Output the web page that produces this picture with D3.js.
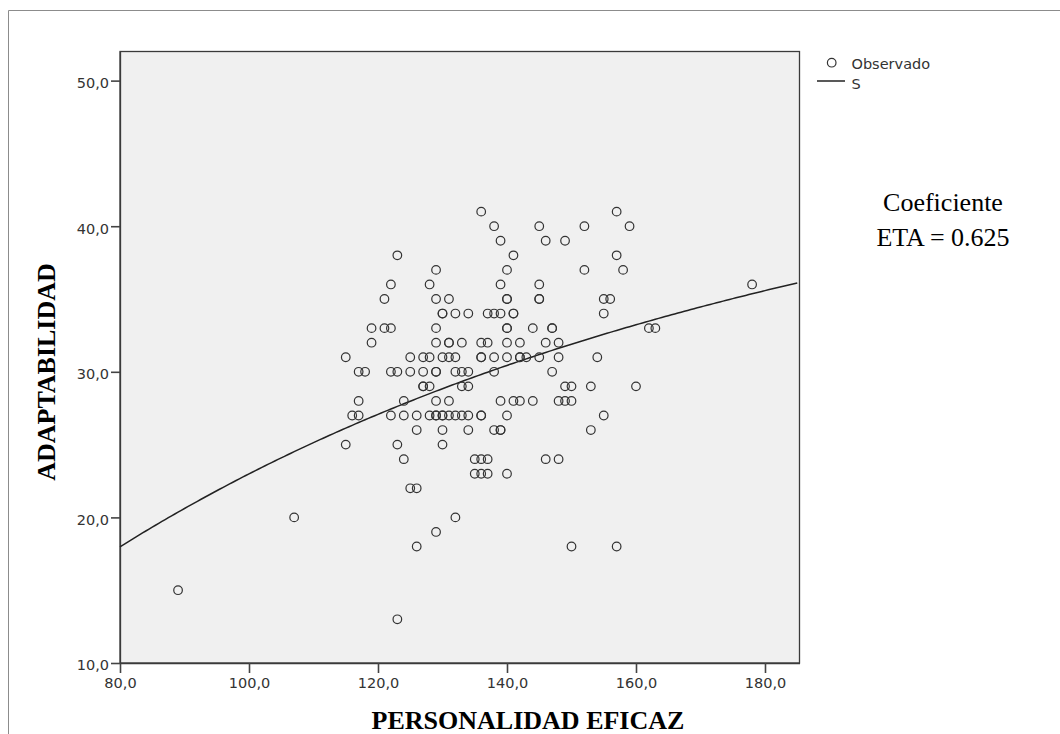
<!DOCTYPE html>
<html><head><meta charset="utf-8">
<script src="https://cdn.jsdelivr.net/npm/d3@7"></script>
<style>body{margin:0;background:#fff}svg{display:block}</style>
</head><body><svg id="c" width="1060" height="734"></svg>
<script>
// Observed points (PERSONALIDAD EFICAZ, ADAPTABILIDAD)
const personalidad = [
 123,122,121,119,121,122,119,115,125,127,117,118,122,123,125,127,127,127,117,124,
 116,117,122,124,126,126,115,123,124,125,126,107,126,123,128,
 136,138,145,139,146,149,141,129,140,139,145,
 129,131,140,140,145,145,
 130,130,132,134,137,138,139,141,141,
 129,140,140,144,147,147,
 129,131,131,133,136,137,140,142,146,148,
 128,130,131,132,136,136,138,140,142,142,143,145,148,
 129,129,132,133,134,138,147,
 128,133,134,149,150,
 129,131,139,141,142,144,148,149,150,
 128,129,129,130,130,131,132,133,134,136,136,140,
 130,134,138,139,139,
 130,
 135,136,137,146,148,
 135,136,137,140,
 132,129,150,
 157,152,159,157,152,158,155,156,155,162,163,154,153,160,155,153,157,
 89,178
];
const adaptabilidad = [
 38,36,35,33,33,33,32,31,31,31,30,30,30,30,30,30,29,29,28,28,
 27,27,27,27,27,26,25,25,24,22,22,20,18,13,36,
 41,40,40,39,39,39,38,37,37,36,36,
 35,35,35,35,35,35,
 34,34,34,34,34,34,34,34,34,
 33,33,33,33,33,33,
 32,32,32,32,32,32,32,32,32,32,
 31,31,31,31,31,31,31,31,31,31,31,31,31,
 30,30,30,30,30,30,30,
 29,29,29,29,29,
 28,28,28,28,28,28,28,28,28,
 27,27,27,27,27,27,27,27,27,27,27,27,
 26,26,26,26,26,
 25,
 24,24,24,24,24,
 23,23,23,23,
 20,19,18,
 41,40,40,38,37,37,35,35,34,33,33,31,29,29,27,26,18,
 15,36
];
const xTicks = [80,100,120,140,160,180];
const yTicks = [10,20,30,40,50];
const xDomain = [80, 185.35];
const yDomain = [10, 52];
// S model: y = exp(b0 + b1 / x)
const sCoef = [4.1175, -98.25];
const legendLabels = ["Observado", "S"];
const xTitle = "PERSONALIDAD EFICAZ";
const yTitle = "ADAPTABILIDAD";
const noteLines = ["Coeficiente", "ETA = 0.625"];

const svg = d3.select("#c");
const L = 120, R = 799.5, T = 51.5, B = 663;
const x = d3.scaleLinear().domain(xDomain).range([L, R]);
const y = d3.scaleLinear().domain(yDomain).range([B, T]);
const fmt = d => d.toFixed(1).replace(".", ",");

// outer frame
svg.append("path").attr("d", "M8.5,734 V10.5 H1060")
  .attr("fill", "none").attr("stroke", "#8c8c8c").attr("stroke-width", 1);

// plot area
svg.append("rect").attr("x", L).attr("y", T).attr("width", R - L).attr("height", B - T)
  .attr("fill", "#f0f0f0").attr("stroke", "#3a3a3a").attr("stroke-width", 1.3);

const tickFont = "'DejaVu Sans', sans-serif";
const gx = svg.append("g").attr("transform", `translate(0,${B})`)
  .call(d3.axisBottom(x).tickValues(xTicks).tickFormat(fmt).tickSize(10).tickPadding(5).tickSizeOuter(0));
const gy = svg.append("g").attr("transform", `translate(${L},0)`)
  .call(d3.axisLeft(y).tickValues(yTicks).tickFormat(fmt).tickSize(9).tickPadding(2).tickSizeOuter(0));
[gx, gy].forEach(g => {
  g.select(".domain").attr("stroke", "#3a3a3a").attr("stroke-width", 1.3);
  g.selectAll(".tick line").attr("stroke", "#444").attr("stroke-width", 1.6);
  g.selectAll(".tick text").attr("fill", "#333").style("font-family", tickFont).style("font-size", "14.5px");
});
gy.selectAll(".tick text").attr("dy", "0.47em");

// S curve
const xs = d3.range(xDomain[0], xDomain[1] + 0.001, 0.5);
const line = d3.line().x(d => x(d)).y(d => y(Math.exp(sCoef[0] + sCoef[1] / d)));
svg.append("path").datum(xs).attr("d", line).attr("fill", "none")
  .attr("stroke", "#222").attr("stroke-width", 1.5);

// points
svg.append("g").selectAll("circle").data(personalidad.map((p, i) => [p, adaptabilidad[i]]))
  .join("circle").attr("cx", d => x(d[0])).attr("cy", d => y(d[1])).attr("r", 4.3)
  .attr("fill", "none").attr("stroke", "#333").attr("stroke-width", 1.2);

// legend
svg.append("circle").attr("cx", 831.7).attr("cy", 62.7).attr("r", 4.3)
  .attr("fill", "none").attr("stroke", "#333").attr("stroke-width", 1.2);
svg.append("line").attr("x1", 817).attr("x2", 845).attr("y1", 81).attr("y2", 81)
  .attr("stroke", "#222").attr("stroke-width", 1.5);
svg.append("text").attr("x", 851.5).attr("y", 69).text(legendLabels[0])
  .attr("fill", "#333").style("font-family", tickFont).style("font-size", "14.5px");
svg.append("text").attr("x", 851.5).attr("y", 89).text(legendLabels[1])
  .attr("fill", "#333").style("font-family", tickFont).style("font-size", "14.5px");

// titles
const serif = "'Liberation Serif', 'Times New Roman', serif";
svg.append("text").attr("x", 528).attr("y", 729).attr("text-anchor", "middle")
  .style("font-family", serif).style("font-weight", "bold").style("font-size", "26px").text(xTitle);
svg.append("text").attr("transform", "translate(55,372) rotate(-90)").attr("text-anchor", "middle")
  .style("font-family", serif).style("font-weight", "bold").style("font-size", "26px").text(yTitle);

// note
svg.selectAll("text.note").data(noteLines).join("text").attr("class", "note")
  .attr("x", 943).attr("y", (d, i) => 211 + i * 35).attr("text-anchor", "middle")
  .style("font-family", serif).style("font-size", "26px").text(d => d);
</script></body></html>
